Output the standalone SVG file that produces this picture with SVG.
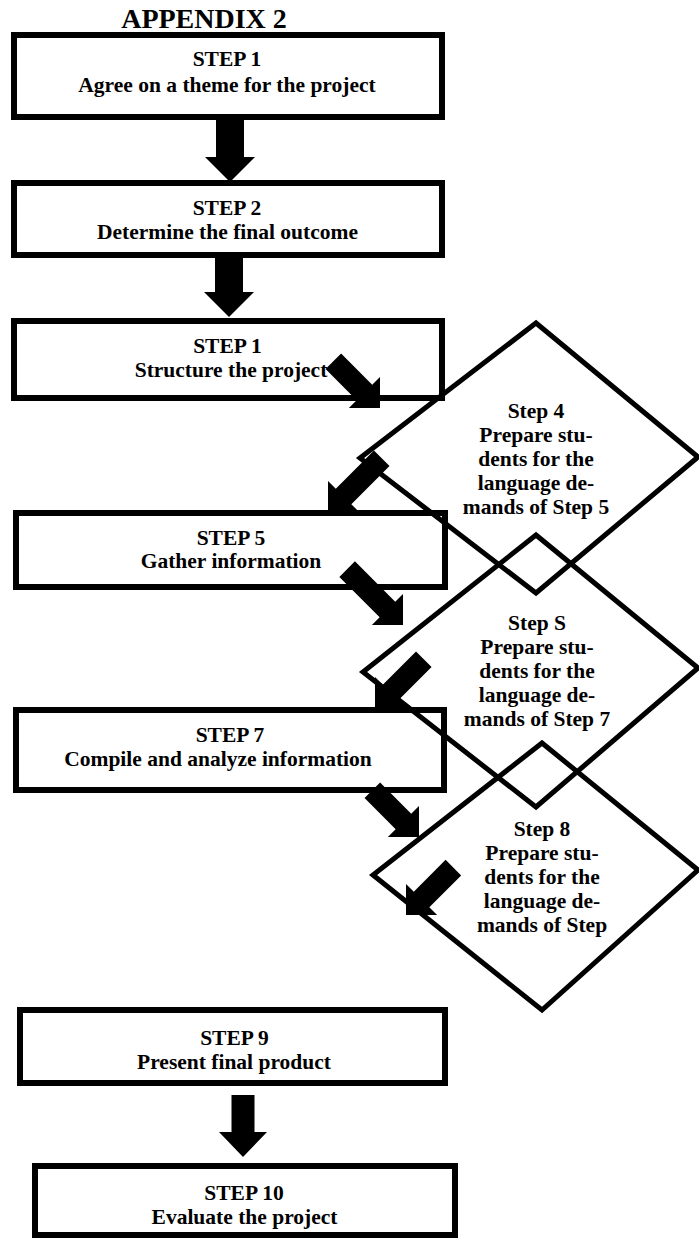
<svg xmlns="http://www.w3.org/2000/svg" width="699" height="1240" viewBox="0 0 699 1240">
<style>
.box{fill:none;stroke:#000;stroke-width:6}
.dia{fill:none;stroke:#000;stroke-width:5;stroke-linejoin:miter;stroke-miterlimit:10}
.t{font-family:"Liberation Serif","Times New Roman",serif;font-weight:bold;font-size:21.5px;text-anchor:middle;fill:#000}
.title{font-family:"Liberation Serif","Times New Roman",serif;font-weight:bold;font-size:28px;text-anchor:middle;fill:#000}
.arr{fill:#000;stroke:none}
</style>
<defs>
<path id="vArrow" d="M0,0 L-25,-25 L-14,-25 L-14,-62 L14,-62 L14,-25 L25,-25 Z"/>
</defs>
<rect width="699" height="1240" fill="#fff"/>
<text class="title" x="204" y="28">APPENDIX 2</text>

<g id="step1">
<rect class="box" x="14" y="35" width="428" height="82"/>
<text class="t" x="227" y="65.5">STEP 1</text>
<text class="t" x="227" y="91.5">Agree on a theme for the project</text>
</g>
<g id="step2">
<rect class="box" x="14" y="183" width="428" height="72"/>
<text class="t" x="227" y="215">STEP 2</text>
<text class="t" x="227.5" y="239">Determine the final outcome</text>
</g>
<g id="step3">
<rect class="box" x="14" y="321" width="428" height="77"/>
<text class="t" x="227.5" y="353">STEP 1</text>
<text class="t" x="231" y="377">Structure the project</text>
</g>
<g id="step4">
<polygon class="dia" points="536,323 698,457 536,593 360,458"/>
<text class="t" x="536" y="418">Step 4</text>
<text class="t" x="536" y="442">Prepare stu-</text>
<text class="t" x="536" y="466">dents for the</text>
<text class="t" x="536" y="490">language de-</text>
<text class="t" x="536" y="514">mands of Step 5</text>
</g>
<g id="step5">
<rect class="box" x="16" y="513" width="429" height="74"/>
<text class="t" x="231" y="545">STEP 5</text>
<text class="t" x="231" y="568">Gather information</text>
</g>
<g id="step6">
<polygon class="dia" points="536,535 698,668 536,807 363,672"/>
<text class="t" x="537" y="630">Step S</text>
<text class="t" x="537" y="654">Prepare stu-</text>
<text class="t" x="537" y="678">dents for the</text>
<text class="t" x="537" y="702">language de-</text>
<text class="t" x="537" y="726">mands of Step 7</text>
</g>
<g id="step7">
<rect class="box" x="16" y="710" width="428" height="80"/>
<text class="t" x="230" y="742">STEP 7</text>
<text class="t" x="218" y="766">Compile and analyze information</text>
</g>
<g id="step8">
<polygon class="dia" points="542,743 698,870 542,1010 373,875"/>
<text class="t" x="542" y="836">Step 8</text>
<text class="t" x="542" y="860">Prepare stu-</text>
<text class="t" x="542" y="884">dents for the</text>
<text class="t" x="542" y="908">language de-</text>
<text class="t" x="542" y="932">mands of Step</text>
</g>
<g id="step9">
<rect class="box" x="20" y="1010" width="425" height="73"/>
<text class="t" x="234.5" y="1045">STEP 9</text>
<text class="t" x="234" y="1069">Present final product</text>
</g>
<g id="step10">
<rect class="box" x="35" y="1166" width="420" height="69"/>
<text class="t" x="244" y="1200">STEP 10</text>
<text class="t" x="244.5" y="1224">Evaluate the project</text>
</g>

<g id="connectors">
<use href="#vArrow" class="arr" transform="translate(230,182)"/>
<use href="#vArrow" class="arr" transform="translate(229,317)"/>
<path class="arr" d="M0,0 L-24,-25 L-11.5,-25 L-11.5,-62 L11.5,-62 L11.5,-25 L24,-25 Z" transform="translate(243,1157)"/>
<path class="arr" d="M0,0 L-22,-22 L-11,-22 L-11,-66 L11,-66 L11,-22 L22,-22 Z" transform="translate(380,408) rotate(-45)"/>
<path class="arr" d="M0,0 L-22,-22 L-11,-22 L-11,-76 L11,-76 L11,-22 L22,-22 Z" transform="translate(328,512) rotate(45)"/>
<path class="arr" d="M0,0 L-22,-22 L-11,-22 L-11,-79 L11,-79 L11,-22 L22,-22 Z" transform="translate(403,625) rotate(-45)"/>
<path class="arr" d="M0,0 L-22,-22 L-11,-22 L-11,-69 L11,-69 L11,-22 L22,-22 Z" transform="translate(375,708) rotate(45)"/>
<path class="arr" d="M0,0 L-22,-22 L-11,-22 L-11,-66 L11,-66 L11,-22 L22,-22 Z" transform="translate(419,837) rotate(-45)"/>
<path class="arr" d="M0,0 L-22,-22 L-11,-22 L-11,-67 L11,-67 L11,-22 L22,-22 Z" transform="translate(406,915) rotate(45)"/>
</g>
</svg>
